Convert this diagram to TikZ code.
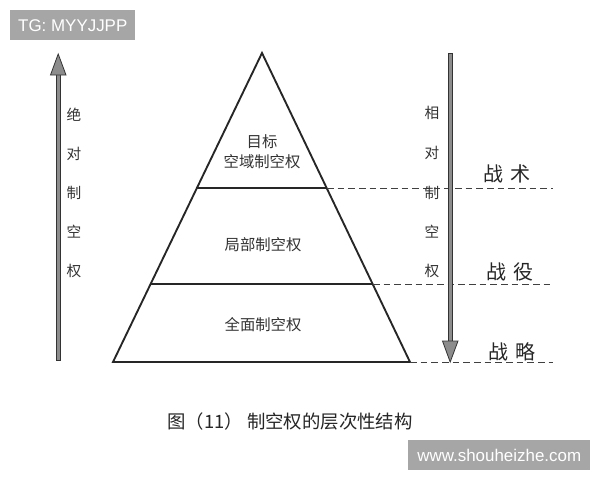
\documentclass[tikz,border=0pt]{standalone}
\usepackage{fontspec}
\setmainfont{Liberation Sans}
\newfontfamily\cjk{Noto Sans CJK SC}
\begin{document}
\begin{tikzpicture}[x=0.75pt,y=-0.75pt,
  edge/.style={line width=1.4pt,black!85},
  dline/.style={line width=0.7pt,black!75,dash pattern=on 5pt off 3pt},
  vchar/.style={font=\cjk\fontsize{11}{12}\selectfont,text=black!80,inner sep=0pt},
  ptext/.style={font=\cjk\fontsize{11.5}{15}\selectfont,text=black!80,align=center,inner sep=0pt},
  level/.style={font=\cjk\fontsize{15}{16}\selectfont,text=black!85,inner sep=0pt},
  shaft/.style={fill=black!45,draw=black!80,line width=0.6pt},
  wm/.style={fill=black!35,text=white,font=\fontsize{12.7}{14}\selectfont,inner sep=0pt,minimum height=22.5pt}
]
\useasboundingbox (0,0) rectangle (600,480);
\fill[white] (0,0) rectangle (600,480);
% watermark boxes
\node[wm,minimum width=93.75pt,anchor=north west] (tg) at (10,10) {TG: MYYJJPP};
\node[wm,minimum width=136.5pt,anchor=north west] (www) at (408,440) {www.shouheizhe.com};
% pyramid
\coordinate (apex) at (262,53);
\coordinate (bl) at (113,362);
\coordinate (br) at (410,362);
\coordinate (l1) at (197,188);
\coordinate (r1) at (327,188);
\coordinate (l2) at (150,284);
\coordinate (r2) at (373,284);
\draw[edge,line join=miter] (apex) -- (br) -- (bl) -- cycle;
\draw[edge] (l1) -- (r1);
\draw[edge] (l2) -- (r2);
% dashed lines
\coordinate (d1) at (553,188);
\coordinate (d2) at (553,284);
\coordinate (d3) at (553,362);
\draw[dline] (r1) -- (d1);
\draw[dline] (r2) -- (d2);
\draw[dline] (br) -- (d3);
% pyramid texts
\node[ptext] (t1) at (262,152) {目标\\空域制空权};
\node[ptext] (t2) at (263,245) {局部制空权};
\node[ptext] (t3) at (263,325) {全面制空权};
% left arrow (up)
\filldraw[shaft] (56,360) rectangle (60.5,74);
\filldraw[shaft,line join=miter] (58.2,54) -- (66,75) -- (50.5,75) -- cycle;
% right arrow (down)
\filldraw[shaft] (448,53) rectangle (452.5,342);
\filldraw[shaft,line join=miter] (450.2,362) -- (458,341) -- (442.5,341) -- cycle;
% vertical texts
\foreach \c/\y [count=\i] in {绝/115,对/154,制/193,空/232,权/271}
  \node[vchar] (la\i) at (74,\y) {\c};
\foreach \c/\y [count=\i] in {相/113,对/153,制/193,空/232,权/271}
  \node[vchar] (ra\i) at (432,\y) {\c};
% level labels
\node[level] (tac) at (507,174) {战\hspace{0.4em}术};
\node[level] (cam) at (510,272) {战\hspace{0.4em}役};
\node[level] (str) at (512,352) {战\hspace{0.4em}略};
% caption
\node[font=\cjk\fontsize{13.8}{16}\selectfont,text=black!85,inner sep=0pt] (cap) at (290,421) {图（11） 制空权的层次性结构};
\end{tikzpicture}
\end{document}
